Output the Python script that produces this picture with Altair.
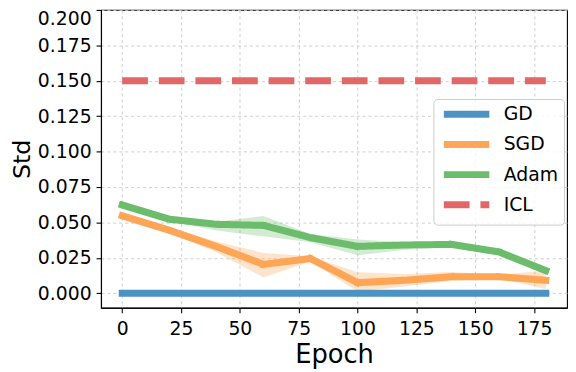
import altair as alt
import pandas as pd

epochs = [0, 20, 40, 60, 80, 100, 120, 140, 160, 180]
series_names = ["GD", "SGD", "Adam", "ICL"]
line_colors = ["#4c92c3", "#ffa556", "#6bbc6b", "#e26868"]
dash_styles = [[1, 0], [1, 0], [1, 0], [26, 11]]

gd = [0.0, 0.0, 0.0, 0.0, 0.0, 0.0, 0.0, 0.0, 0.0, 0.0]
sgd = [0.0547, 0.0445, 0.0330, 0.0204, 0.0245, 0.0075, 0.0092, 0.0117, 0.0117, 0.0092]
sgd_lo = [0.0535, 0.0425, 0.0290, 0.0112, 0.0225, 0.0012, 0.0048, 0.0088, 0.0105, 0.0030]
sgd_hi = [0.0560, 0.0465, 0.0365, 0.0285, 0.0262, 0.0148, 0.0136, 0.0150, 0.0130, 0.0160]
adam = [0.0623, 0.0523, 0.0487, 0.0479, 0.0393, 0.0331, 0.0341, 0.0345, 0.0292, 0.0160]
adam_lo = [0.0612, 0.0510, 0.0443, 0.0402, 0.0361, 0.0268, 0.0307, 0.0330, 0.0275, 0.0150]
adam_hi = [0.0635, 0.0537, 0.0505, 0.0545, 0.0418, 0.0380, 0.0361, 0.0358, 0.0310, 0.0172]
icl = [0.15, 0.15, 0.15, 0.15, 0.15, 0.15, 0.15, 0.15, 0.15, 0.15]

x_ticks = [0, 25, 50, 75, 100, 125, 150, 175]
y_ticks = [0.0, 0.025, 0.05, 0.075, 0.1, 0.125, 0.15, 0.175, 0.2]

rows = []
for name, vals in [("GD", gd), ("SGD", sgd), ("Adam", adam), ("ICL", icl)]:
    for e, v in zip(epochs, vals):
        rows.append({"epoch": e, "series": name, "value": v})
df = pd.DataFrame(rows)

brows = []
for name, lo, hi in [("SGD", sgd_lo, sgd_hi), ("Adam", adam_lo, adam_hi)]:
    for e, a, b in zip(epochs, lo, hi):
        brows.append({"epoch": e, "series": name, "lo": a, "hi": b})
dfb = pd.DataFrame(brows)

W, H = 471, 301
xscale = alt.Scale(domain=[-9, 189], nice=False, zero=False)
yscale = alt.Scale(domain=[-0.0102, 0.2], nice=False, zero=False)
xaxis = alt.Axis(values=x_ticks, title="Epoch", labelPadding=7, labelFlush=False, labelAngle=0,
                 titleBaseline="alphabetic", titleX=W / 2, titleY=55, titleAlign="center")
yaxis = alt.Axis(values=y_ticks, format=".3f", title="Std", labelPadding=5, labelFlush=True,
                 titleBaseline="alphabetic", titleX=-72, titleY=H / 2, titleAlign="center",
                 titleAngle=270, titleFontSize=24)

color = alt.Color("series:N", scale=alt.Scale(domain=series_names, range=line_colors),
                  legend=alt.Legend(title=None), sort=series_names)
dash = alt.StrokeDash("series:N", scale=alt.Scale(domain=series_names, range=dash_styles),
                      legend=alt.Legend(title=None), sort=series_names)

bands = alt.Chart(dfb).mark_area(fillOpacity=0.3, strokeWidth=0).encode(
    x=alt.X("epoch:Q", scale=xscale, axis=xaxis),
    y=alt.Y("lo:Q", scale=yscale, axis=yaxis),
    y2="hi:Q",
    fill=alt.Fill("series:N", scale=alt.Scale(domain=["SGD", "Adam"], range=["#ffa556", "#6bbc6b"]),
                  legend=None),
)

solid = alt.Chart(df).transform_filter(alt.datum.series != "ICL").mark_line(
    strokeWidth=7, strokeCap="square", strokeJoin="round"
).encode(
    x=alt.X("epoch:Q", scale=xscale, axis=xaxis),
    y=alt.Y("value:Q", scale=yscale, axis=yaxis),
    color=color,
    strokeDash=dash,
)

dashed = alt.Chart(df).transform_filter(alt.datum.series == "ICL").mark_line(
    strokeWidth=7, strokeCap="butt"
).encode(
    x=alt.X("epoch:Q", scale=xscale, axis=xaxis),
    y=alt.Y("value:Q", scale=yscale, axis=yaxis),
    color=color,
    strokeDash=dash,
)

chart = alt.layer(bands, solid, dashed).properties(
    width=W, height=H,
    autosize=alt.AutoSizeParams(type="none"),
    padding={"left": 94, "top": 0, "right": 1, "bottom": 61},
    background="white",
).configure_axis(
    labelFont="DejaVu Sans", labelFontSize=19, labelColor="black",
    titleFont="DejaVu Sans", titleFontSize=26, titleFontWeight="normal", titleColor="black",
    domainColor="black", domainWidth=1.1, tickColor="black", tickWidth=1.1, tickSize=5,
    gridColor="#c8c8c8", gridDash=[3, 3], gridWidth=0.9, labelOverlap=False,
).configure_view(
    stroke="black", strokeWidth=1.1,
).configure_legend(
    orient="none", legendX=336, legendY=90,
    fillColor="rgba(255,255,255,0.8)", strokeColor="#cccccc", cornerRadius=4, padding=6,
    labelFont="DejaVu Sans", labelFontSize=19, labelColor="black",
    symbolType="M-4.6,0H4.6", symbolSize=100, symbolStrokeWidth=7,
    symbolOffset=18, labelOffset=28, rowPadding=1.5,
)

chart.save("out.html", embed_options={"renderer": "svg", "actions": False})
